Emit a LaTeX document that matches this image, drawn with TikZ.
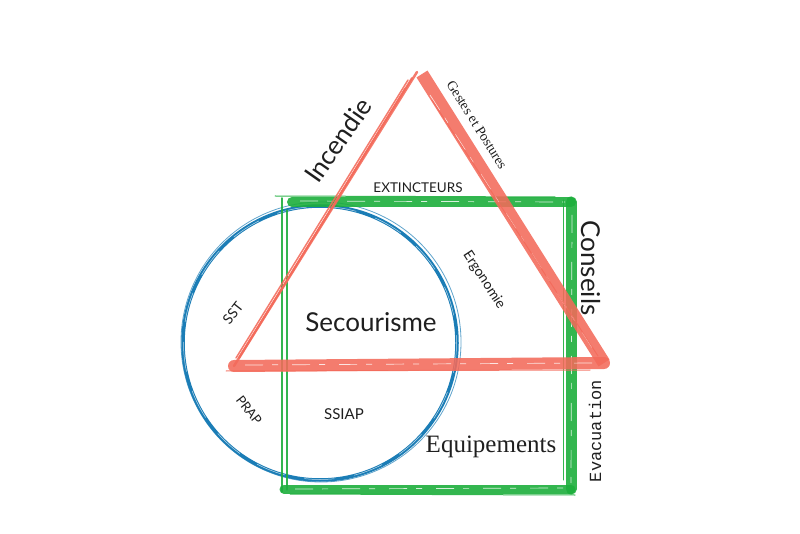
\documentclass[tikz,border=0pt]{standalone}
\usepackage{fontspec}
\setmainfont{Liberation Serif}
\newfontfamily\optmed{Lato}
\newfontfamily\monofont{Liberation Mono}
\definecolor{tred}{HTML}{F36A5A}
\definecolor{sgreen}{HTML}{1DAE3C}
\definecolor{cblue}{HTML}{1B7DB6}
\begin{document}
\begin{tikzpicture}[x=1pt,y=-1pt,
  redline/.style={draw=tred,line cap=round,opacity=0.88},
  greenline/.style={draw=sgreen,line cap=round,opacity=0.9},
  brush/.style={draw=white,line width=0.7pt,dash pattern=on 18pt off 9pt on 6pt off 14pt,opacity=0.8},
  label/.style={inner sep=0pt,text=black!88}]
\useasboundingbox (0,0) rectangle (800,534);
% coordinates
\coordinate (A) at (417,72);
\coordinate (B) at (234,366);
\coordinate (C) at (604,363);
\coordinate (G2) at (571,202);
\coordinate (G3) at (571,489);
\coordinate (G4) at (284,489);
% blue circle
\draw[cblue,line width=3.5pt] (320,343) circle (137);
\draw[cblue,line width=0.8pt,opacity=0.7] (321,342) circle (140);
\draw[white,line width=0.5pt,dash pattern=on 30pt off 20pt,opacity=0.7] (320,343) circle (136.5);
% green square
\draw[greenline,line width=10pt] (292,202) -- (G2);
\draw[brush] (300,201) -- (565,202);
\draw[greenline,line width=1pt] (275,196) -- (555,197);
\draw[greenline,line width=11pt] (G2) -- (G3);
\draw[brush] (572,215) -- (571,485);
\draw[greenline,line width=1pt] (563,200) -- (563,480);
\draw[greenline,line width=9pt] (G4) -- (G3);
\draw[brush] (295,489) -- (565,488);
\draw[greenline,line width=1pt] (290,494) -- (575,495);
\draw[greenline,line width=1.5pt] (282,198) -- (282,492);
\draw[greenline,line width=1.2pt] (287,210) -- (287,490);
% red triangle
\draw[redline,line width=2.5pt] (A) -- (B);
\draw[redline,line width=2pt] (412,78) -- (239,358);
\draw[redline,line width=1.5pt] (408,80) -- (236,358);
\draw[redline,line width=1pt] (405,88) -- (244,350);
\draw[redline,line width=13pt,line cap=butt] (422,74) -- (C);
\draw[brush] (430,95) -- (595,352);
\draw[redline,line width=1pt] (432,100) -- (598,356);
\draw[redline,line width=12pt] (B) -- (C);
\draw[brush] (245,365) -- (595,363);
\draw[redline,line width=1pt] (226,371) -- (590,370);
% labels
\node[label,font=\optmed\fontsize{26}{26}\selectfont,rotate=55] (inc) at (338,140) {Incendie};
\node[label,font=\fontsize{14}{14}\selectfont,rotate=-58] (ges) at (477,125) {Gestes et Postures};
\node[label,font=\optmed\fontsize{13.5}{13.5}\selectfont] (ext) at (418,188) {EXTINCTEURS};
\node[label,font=\optmed\fontsize{26}{26}\selectfont,rotate=-90] (con) at (591,268) {Conseils};
\node[label,font=\optmed\fontsize{14}{14}\selectfont,rotate=-57] (erg) at (484,280) {Ergonomie};
\node[label,font=\optmed\fontsize{14}{14}\selectfont,rotate=52] (sst) at (233,313) {SST};
\node[label,font=\optmed\fontsize{26}{26}\selectfont] (sec) at (371,322) {Secourisme};
\node[label,font=\optmed\fontsize{13}{13}\selectfont,rotate=-52] (prap) at (249,410) {PRAP};
\node[label,font=\optmed\fontsize{15}{15}\selectfont] (ssiap) at (344,414) {SSIAP};
\node[label,font=\fontsize{25}{25}\selectfont] (equ) at (491,447) {Equipements};
\node[label,font=\monofont\fontsize{17}{17}\selectfont,rotate=90] (eva) at (595,431) {Evacuation};
\end{tikzpicture}
\end{document}
